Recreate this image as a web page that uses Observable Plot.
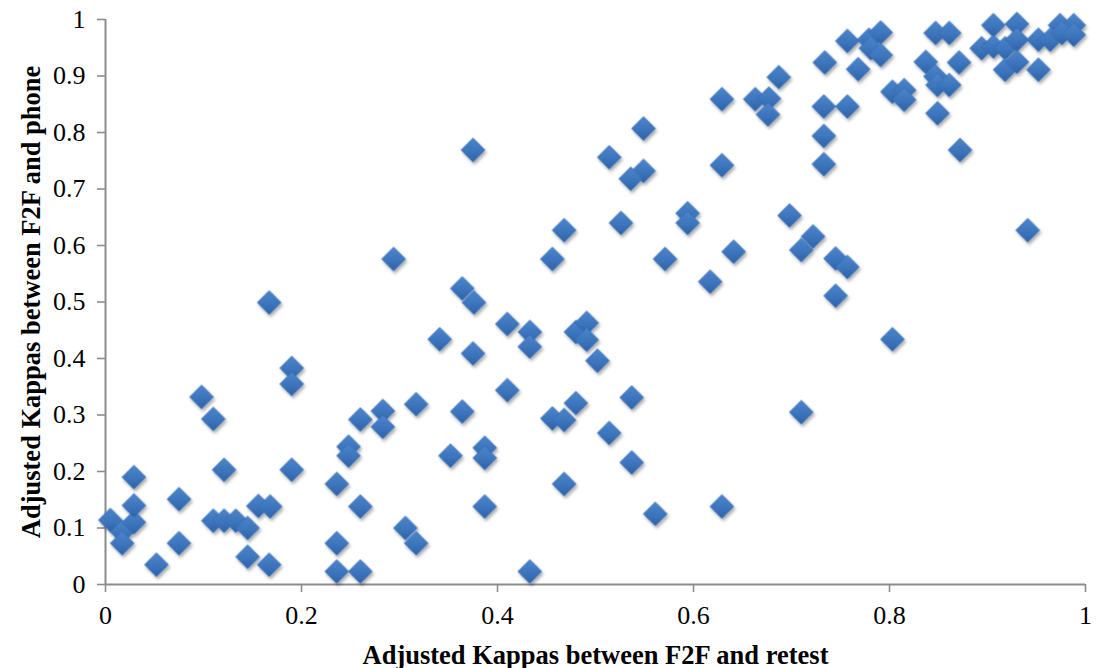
<!DOCTYPE html>
<html><head><meta charset="utf-8">
<script src="https://cdn.jsdelivr.net/npm/d3@7"></script>
<script src="https://cdn.jsdelivr.net/npm/@observablehq/plot@0.6"></script>
<style>
body{margin:0;background:#fff;}
#chart svg{display:block;}
</style>
</head><body><div id="chart"></div>
<script>
// Adjusted Kappas between F2F and retest (x)
const kappaRetest = [
  0.005,0.017,0.017,0.029,0.029,0.029,0.052,0.075,0.075,0.098,
  0.110,0.110,0.121,0.121,0.133,0.145,0.145,0.156,0.168,0.167,
  0.167,0.190,0.190,0.190,0.236,0.236,0.236,0.248,0.248,0.364,
  0.376,0.410,0.433,0.433,0.341,0.375,0.410,0.480,0.491,0.491,
  0.317,0.260,0.283,0.283,0.364,0.352,0.387,0.387,0.456,0.468,
  0.480,0.468,0.260,0.387,0.306,0.317,0.260,0.433,0.617,0.502,
  0.537,0.514,0.537,0.561,0.629,0.710,0.745,0.803,0.375,0.294,
  0.687,0.629,0.663,0.677,0.676,0.549,0.514,0.629,0.549,0.536,
  0.468,0.456,0.526,0.594,0.594,0.571,0.641,0.698,0.757,0.779,
  0.791,0.781,0.791,0.734,0.768,0.847,0.861,0.837,0.871,0.847,
  0.849,0.861,0.803,0.815,0.815,0.733,0.757,0.849,0.733,0.872,
  0.733,0.906,0.930,0.974,0.988,0.894,0.906,0.918,0.930,0.952,
  0.964,0.976,0.988,0.918,0.930,0.952,0.941,0.722,0.710,0.745,
  0.757
];
// Adjusted Kappas between F2F and phone (y)
const kappaPhone = [
  0.114,0.093,0.073,0.110,0.140,0.190,0.035,0.151,0.073,0.332,
  0.293,0.113,0.203,0.113,0.113,0.100,0.049,0.139,0.138,0.035,
  0.499,0.383,0.355,0.203,0.178,0.073,0.023,0.244,0.228,0.524,
  0.499,0.461,0.447,0.421,0.434,0.409,0.344,0.447,0.463,0.433,
  0.319,0.292,0.307,0.279,0.306,0.228,0.242,0.224,0.294,0.291,
  0.321,0.178,0.138,0.138,0.100,0.073,0.023,0.023,0.536,0.396,
  0.331,0.268,0.216,0.125,0.138,0.305,0.511,0.434,0.769,0.576,
  0.898,0.859,0.859,0.860,0.832,0.807,0.756,0.742,0.732,0.718,
  0.627,0.576,0.640,0.657,0.640,0.576,0.589,0.653,0.962,0.964,
  0.977,0.949,0.937,0.924,0.912,0.976,0.976,0.925,0.924,0.899,
  0.884,0.884,0.872,0.875,0.858,0.846,0.846,0.834,0.794,0.769,
  0.744,0.990,0.992,0.990,0.990,0.949,0.952,0.949,0.964,0.964,
  0.964,0.976,0.973,0.911,0.925,0.911,0.627,0.616,0.592,0.577,
  0.562
];
const xTicks = [0, 0.2, 0.4, 0.6, 0.8, 1];
const yTicks = [0, 0.1, 0.2, 0.3, 0.4, 0.5, 0.6, 0.7, 0.8, 0.9, 1];
const xTitle = "Adjusted Kappas between F2F and retest";
const yTitle = "Adjusted Kappas between F2F and phone";

const points = kappaRetest.map((x, i) => ({x, y: kappaPhone[i]}));
const axisColor = "#8c8c8c";
const serif = "'Liberation Serif','Times New Roman',serif";
const tickFont = 26;

const chart = Plot.plot({
  width: 1098,
  height: 668,
  marginLeft: 105,
  marginRight: 13,
  marginTop: 19,
  marginBottom: 84,
  style: {fontFamily: serif, fontSize: tickFont + "px", color: "#000", background: "#fff", overflow: "visible"},
  x: {domain: [0, 1]},
  y: {domain: [0, 1]},
  marks: [
    Plot.axisX({ticks: xTicks, tickSize: 8, stroke: axisColor, strokeWidth: 1.6, tickFormat: () => "", label: null}),
    Plot.axisY({ticks: yTicks, tickSize: 8, stroke: axisColor, strokeWidth: 1.6, tickFormat: () => "", label: null}),
    Plot.text(xTicks, {x: d => d, text: d => String(d), frameAnchor: "bottom", dy: 31, lineAnchor: "middle", textAnchor: "middle", fontSize: tickFont, fontFamily: serif, fill: "#000"}),
    Plot.text(yTicks, {y: d => d, text: d => String(d), frameAnchor: "left", dx: -20, lineAnchor: "middle", textAnchor: "end", fontSize: tickFont, fontFamily: serif, fill: "#000"}),
    Plot.ruleX([0], {stroke: axisColor, strokeWidth: 2}),
    Plot.ruleY([0], {stroke: axisColor, strokeWidth: 2}),
    Plot.dot(points, {x: "x", y: "y", symbol: "diamond2", r: 10.8, fill: "url(#dgrad)", stroke: "#3068ad", strokeWidth: 0.6}),
    Plot.text([xTitle], {frameAnchor: "bottom", dy: 71, lineAnchor: "middle", textAnchor: "middle", fontWeight: "bold", fontSize: 26.5, fill: "#000", fontFamily: serif}),
    Plot.text([yTitle], {frameAnchor: "left", dx: -74, rotate: -90, lineAnchor: "middle", textAnchor: "middle", fontWeight: "bold", fontSize: 26.5, fill: "#000", fontFamily: serif})
  ]
});

// gradient + shadow styling for the diamonds
const svg = d3.select(chart);
const defs = svg.insert("defs", ":first-child");
const g = defs.append("linearGradient").attr("id", "dgrad").attr("x1", 0).attr("y1", 0).attr("x2", 0).attr("y2", 1);
g.append("stop").attr("offset", "0%").attr("stop-color", "#4c85cb");
g.append("stop").attr("offset", "55%").attr("stop-color", "#3d75bd");
g.append("stop").attr("offset", "100%").attr("stop-color", "#2e62a8");
const f = defs.append("filter").attr("id", "dshadow").attr("x", "-50%").attr("y", "-50%").attr("width", "200%").attr("height", "200%");
f.append("feDropShadow").attr("dx", 1.5).attr("dy", 2.5).attr("stdDeviation", 1.6).attr("flood-color", "#000").attr("flood-opacity", 0.33);
svg.selectAll("g[aria-label='dot']").attr("filter", "url(#dshadow)");

document.getElementById("chart").appendChild(chart);
</script>
</body></html>
